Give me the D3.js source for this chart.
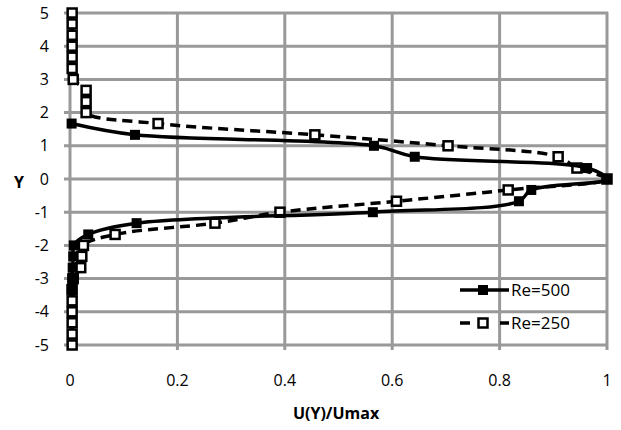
<!DOCTYPE html>
<html lang="en">
<head>
    <meta charset="UTF-8">
    <title>Velocity profile</title>
    <style>
        body { margin: 0; background: #fff; }
        svg text { font-family: 'Open Sans', sans-serif; fill: #000; }
    </style>
    <script src="https://d3js.org/d3.v7.min.js"></script>
</head>
<body>
    <svg width="621" height="430"></svg>
    <script>
        // Re=500, filled squares, solid line
        const yRe500 = [1.67, 1.33, 1.0, 0.67, 0.33, 0, -0.33, -0.67, -1.0, -1.33, -1.67, -2.0, -2.33, -2.67, -3.0, -3.33];
        const uRe500 = [0.003, 0.121, 0.566, 0.642, 0.963, 1.0, 0.859, 0.836, 0.564, 0.124, 0.034, 0.007, 0.006, 0.005, 0.004, 0.003];

        // Re=250, hollow squares, dashed line
        const yRe250 = [5.0, 4.67, 4.33, 4.0, 3.67, 3.33, 3.0, 2.67, 2.33, 2.0, 1.67, 1.33, 1.0, 0.67, 0.33, 0,
                        -0.33, -0.67, -1.0, -1.33, -1.67, -2.0, -2.33, -2.67, -3.0, -3.33, -3.67, -4.0, -4.33, -4.67, -5.0];
        const uRe250 = [0.004, 0.004, 0.004, 0.004, 0.004, 0.004, 0.006, 0.03, 0.03, 0.03, 0.164, 0.456, 0.704, 0.909, 0.944, 1.0,
                        0.816, 0.608, 0.391, 0.27, 0.084, 0.025, 0.022, 0.02, 0.006, 0.004, 0.004, 0.004, 0.004, 0.004, 0.004];

        const xTicks = [0, 0.2, 0.4, 0.6, 0.8, 1];
        const yTicks = [5, 4, 3, 2, 1, 0, -1, -2, -3, -4, -5];

        const svg = d3.select("svg");

        const x = d3.scaleLinear().domain([0, 1]).range([70, 607]);
        const y = d3.scaleLinear().domain([-5, 5]).range([345, 13]);

        // gridlines
        svg.append("g")
            .selectAll("line")
            .data(yTicks)
            .enter().append("line")
            .attr("x1", x(0) - 6)
            .attr("x2", x(1) + 1)
            .attr("y1", d => y(d))
            .attr("y2", d => y(d))
            .attr("stroke", "#999")
            .attr("stroke-width", 3);

        svg.append("g")
            .selectAll("line")
            .data(xTicks)
            .enter().append("line")
            .attr("x1", d => x(d))
            .attr("x2", d => x(d))
            .attr("y1", y(5) - 1)
            .attr("y2", y(-5) + 5)
            .attr("stroke", "#999")
            .attr("stroke-width", 3);

        // tick labels
        svg.append("g")
            .selectAll("text")
            .data(yTicks)
            .enter().append("text")
            .attr("x", 49)
            .attr("y", d => y(d))
            .attr("dy", "0.35em")
            .attr("text-anchor", "end")
            .style("font-size", "16px")
            .text(d => d);

        svg.append("g")
            .selectAll("text")
            .data(xTicks)
            .enter().append("text")
            .attr("x", d => x(d))
            .attr("y", 386)
            .attr("text-anchor", "middle")
            .style("font-size", "16px")
            .text(d => d);

        // axis titles
        svg.append("text")
            .attr("x", 19)
            .attr("y", 188)
            .attr("text-anchor", "middle")
            .style("font-size", "16px")
            .style("font-weight", "700")
            .text("Y");

        svg.append("text")
            .attr("x", 336)
            .attr("y", 419)
            .attr("text-anchor", "middle")
            .style("font-size", "16px")
            .style("font-weight", "700")
            .text("U(Y)/Umax");

        const line = d3.line()
            .x(d => x(d[0]))
            .y(d => y(d[1]))
            .curve(d3.curveCatmullRom);

        const pts250 = uRe250.map((u, i) => [u, yRe250[i]]);
        const pts500 = uRe500.map((u, i) => [u, yRe500[i]]);

        // Re=250
        svg.append("path")
            .datum(pts250)
            .attr("d", line)
            .attr("fill", "none")
            .attr("stroke", "#000")
            .attr("stroke-width", 3.5)
            .attr("stroke-dasharray", "10,6");

        svg.append("g")
            .selectAll("rect")
            .data(pts250)
            .enter().append("rect")
            .attr("x", d => x(d[0]) - 4.5)
            .attr("y", d => y(d[1]) - 4.5)
            .attr("width", 9)
            .attr("height", 9)
            .attr("fill", "#fff")
            .attr("stroke", "#000")
            .attr("stroke-width", 2.5);

        // Re=500
        svg.append("path")
            .datum(pts500)
            .attr("d", line)
            .attr("fill", "none")
            .attr("stroke", "#000")
            .attr("stroke-width", 3.5);

        svg.append("g")
            .selectAll("rect")
            .data(pts500)
            .enter().append("rect")
            .attr("x", d => x(d[0]) - 5)
            .attr("y", d => y(d[1]) - 5)
            .attr("width", 10)
            .attr("height", 10)
            .attr("fill", "#000");

        // legend
        const legend = svg.append("g");

        legend.append("line")
            .attr("x1", 460).attr("x2", 509)
            .attr("y1", 290).attr("y2", 290)
            .attr("stroke", "#000").attr("stroke-width", 3.5);
        legend.append("rect")
            .attr("x", 478).attr("y", 285)
            .attr("width", 10).attr("height", 10)
            .attr("fill", "#000");
        legend.append("text")
            .attr("x", 511).attr("y", 296)
            .style("font-size", "17px")
            .text("Re=500");

        legend.append("line")
            .attr("x1", 460).attr("x2", 509)
            .attr("y1", 323).attr("y2", 323)
            .attr("stroke", "#000").attr("stroke-width", 3.5)
            .attr("stroke-dasharray", "10,30,9");
        legend.append("rect")
            .attr("x", 478.5).attr("y", 318.5)
            .attr("width", 9).attr("height", 9)
            .attr("fill", "#fff")
            .attr("stroke", "#000").attr("stroke-width", 2.5);
        legend.append("text")
            .attr("x", 511).attr("y", 329)
            .style("font-size", "17px")
            .text("Re=250");
    </script>
</body>
</html>
